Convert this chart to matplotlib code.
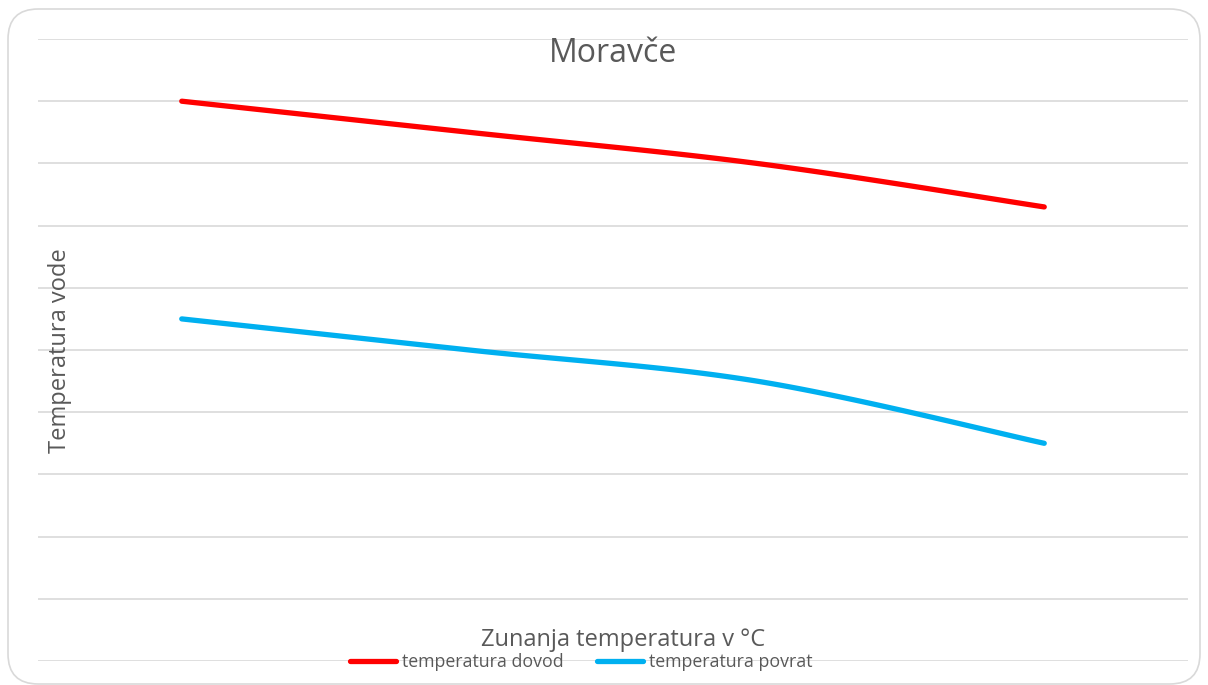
import numpy as np
import matplotlib
matplotlib.use("Agg")
import matplotlib.pyplot as plt
from matplotlib.patches import FancyBboxPatch

# data (axis has no tick labels)
categories = ["-15", "-10", "-5", "0"]
dovod = [90, 85, 80, 73]
povrat = [55, 50, 45, 35]

RED = "#FF0000"
BLUE = "#00B0F0"
GREY = "#595959"
GRID = "#D9D9D9"

plt.rcParams["font.family"] = ["Open Sans", "DejaVu Sans"]


def smooth(xs, ys, n=40):
    # Excel-like smoothed line (cardinal bezier, tension 1/6)
    pts = np.column_stack([xs, ys]).astype(float)
    out = []
    for i in range(len(pts) - 1):
        p0 = pts[max(i - 1, 0)]
        p1 = pts[i]
        p2 = pts[i + 1]
        p3 = pts[min(i + 2, len(pts) - 1)]
        c1 = p1 + (p2 - p0) / 6
        c2 = p2 - (p3 - p1) / 6
        t = np.linspace(0, 1, n)[:, None]
        seg = ((1 - t) ** 3) * p1 + 3 * ((1 - t) ** 2) * t * c1 + 3 * (1 - t) * t ** 2 * c2 + t ** 3 * p2
        out.append(seg if i == 0 else seg[1:])
    out = np.vstack(out)
    return out[:, 0], out[:, 1]


fig = plt.figure(figsize=(12.08, 6.85), dpi=100)

# rounded chart border
border = FancyBboxPatch((8 / 1208, 1 / 685), 1192 / 1208, 675 / 685,
                        boxstyle="round,pad=0,rounding_size=0.025",
                        transform=fig.transFigure, fill=False,
                        edgecolor=GRID, linewidth=1.2, mutation_aspect=1208 / 685)
fig.patches.append(border)

ax = fig.add_axes([38 / 1208, 1 - 661 / 685, 1150 / 1208, 622 / 685])
x = np.arange(len(categories))
ax.set_xlim(-0.5, len(categories) - 0.5)
ax.set_ylim(0, 100)
ax.set_yticks(np.arange(0, 101, 10))
ax.set_xticks([])
ax.tick_params(axis="y", length=0, labelleft=False)
ax.grid(axis="y", color=GRID, linewidth=1.2)
ax.set_axisbelow(True)
for s in ax.spines.values():
    s.set_visible(False)

sx, sy = smooth(x, dovod)
ax.plot(sx, sy, color=RED, lw=3.8, solid_capstyle="round", label="temperatura dovod")
sx, sy = smooth(x, povrat)
ax.plot(sx, sy, color=BLUE, lw=3.8, solid_capstyle="round", label="temperatura povrat")

fig.text(613 / 1208, 1 - 54 / 685, "Moravče", ha="center", va="center",
         fontsize=23, color=GREY)
fig.text(60 / 1208, 1 - 351 / 685, "Temperatura vode", ha="center", va="center",
         rotation=90, fontsize=17, color=GREY)
fig.text(623 / 1208, 1 - 640 / 685, "Zunanja temperatura v °C", ha="center",
         va="center", fontsize=17, color=GREY)

leg = fig.legend(loc="center", bbox_to_anchor=(581 / 1208, 1 - 662 / 685), ncol=2,
                 frameon=False, fontsize=12.8, handlelength=2.6, handletextpad=0.3,
                 columnspacing=1.9, labelcolor=GREY, borderpad=0)

fig.savefig("out.png", dpi=100)
